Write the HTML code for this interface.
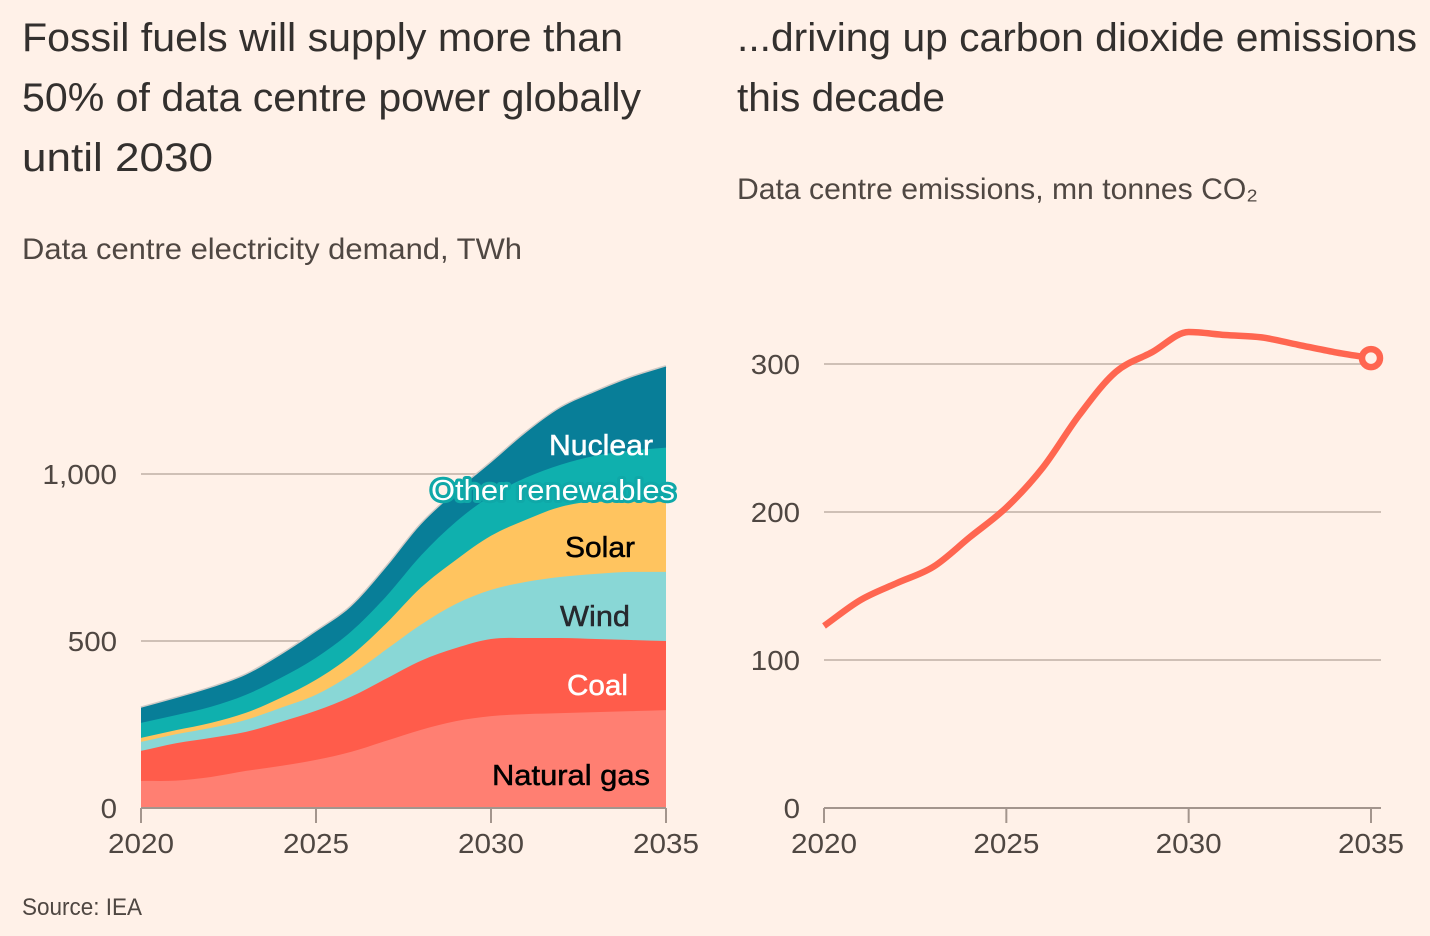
<!DOCTYPE html>
<html lang="en">
<head>
<meta charset="utf-8">
<title>Data centre power and emissions</title>
<style>
html,body{margin:0;padding:0;background:#fff1e8;width:1430px;height:936px;overflow:hidden}
svg{display:block}
text{font-family:"Liberation Sans","DejaVu Sans",sans-serif}
.title{font-size:40px;fill:#33302e}
.sub{font-size:29.5px;fill:#4f4742}
.tick{font-size:28px;fill:#4f4742}
.src{font-size:24px;fill:#4f4742}
.lab{font-size:29px;stroke-width:.5px}
</style>
</head>
<body>
<svg id="chart" width="1430" height="936" viewBox="0 0 1430 936" xmlns="http://www.w3.org/2000/svg">
<rect width="1430" height="936" fill="#fff1e8"/>
<text class="title" x="22" y="51" textLength="601" lengthAdjust="spacingAndGlyphs">Fossil fuels will supply more than</text>
<text class="title" x="22" y="111" textLength="619" lengthAdjust="spacingAndGlyphs">50% of data centre power globally</text>
<text class="title" x="22" y="171" textLength="191" lengthAdjust="spacingAndGlyphs">until 2030</text>
<text class="sub" x="22" y="259" textLength="500" lengthAdjust="spacingAndGlyphs">Data centre electricity demand, TWh</text>
<text class="title" x="737" y="51" textLength="680" lengthAdjust="spacingAndGlyphs">...driving up carbon dioxide emissions</text>
<text class="title" x="737" y="111" textLength="208" lengthAdjust="spacingAndGlyphs">this decade</text>
<text class="sub" x="737" y="199" textLength="521" lengthAdjust="spacingAndGlyphs">Data centre emissions, mn tonnes CO₂</text>
<text class="src" x="22" y="915" textLength="120" lengthAdjust="spacingAndGlyphs">Source: IEA</text>
<g id="left-grid"></g>
<g id="areas"></g>
<g id="left-axis"></g>
<g id="labels">
<text class="lab" x="549" y="455" textLength="104" lengthAdjust="spacingAndGlyphs" fill="#ffffff" stroke="#ffffff">Nuclear</text>
<text class="lab" x="431" y="500" textLength="244" lengthAdjust="spacingAndGlyphs" fill="#ffffff" stroke="#0fa8a8" style="stroke-width:6px" paint-order="stroke" stroke-linejoin="round">Other renewables</text>
<text class="lab" x="565" y="557" textLength="70" lengthAdjust="spacingAndGlyphs" fill="#000000" stroke="#000000">Solar</text>
<text class="lab" x="560" y="626" textLength="70" lengthAdjust="spacingAndGlyphs" fill="#26292e" stroke="#26292e">Wind</text>
<text class="lab" x="567" y="695" textLength="61" lengthAdjust="spacingAndGlyphs" fill="#ffffff" stroke="#ffffff">Coal</text>
<text class="lab" x="492" y="785" textLength="158" lengthAdjust="spacingAndGlyphs" fill="#000000" stroke="#000000">Natural gas</text>
</g>
<g id="right-grid"></g>
<g id="right-axis"></g>
<g id="right-series"></g>
</svg>
<script>
const years = [2020,2021,2022,2023,2024,2025,2026,2027,2028,2029,2030,2031,2032,2033,2034,2035];
const naturalGas = [81,82,93,111,126,144,168,201,234,260,275,281,284,287,290,293];
const coal = [90,112,117,117,132,147,165,186,207,219,231,228,225,219,213,207];
const wind = [27,27,30,36,42,48,66,87,108,132,147,168,183,195,204,207];
const solar = [12,12,15,21,30,45,57,78,111,132,162,186,210,216,210,210];
const otherRenewables = [45,45,48,54,60,66,72,81,96,114,120,126,126,138,153,162];
const nuclear = [45,51,57,60,69,78,75,87,93,90,99,135,171,192,219,243];
const emissions = [123,140.5,152,163,183,203,230,265.5,294.6,308,321.6,319.6,318,313,308,304];
const xTickYears = [2020,2025,2030,2035];
const leftYTicks = [0,500,1000];
const leftYTickLabels = ['0','500','1,000'];
const rightYTicks = [0,100,200,300];
const rightYTickLabels = ['0','100','200','300'];

const NS = 'http://www.w3.org/2000/svg';
function xL(y){return 141 + (y-2020)*35;}
function yL(v){return 808 - v*0.334;}
function xR(y){return 824 + (y-2020)*(547/15);}
function yR(v){return 808 - v*1.48;}
function labelWidth(s){return s.replace(',','').length*16.4 + (s.indexOf(',')>=0 ? 9 : 0);}

function curve(pts){
  const n = pts.length, d = [], m = [];
  for(let i=0;i<n-1;i++) d.push((pts[i+1][1]-pts[i][1])/(pts[i+1][0]-pts[i][0]));
  m[0] = d[0]; m[n-1] = d[n-2];
  for(let i=1;i<n-1;i++) m[i] = d[i-1]*d[i] <= 0 ? 0 : (d[i-1]+d[i])/2;
  let s = 'M'+pts[0][0].toFixed(2)+','+pts[0][1].toFixed(2);
  for(let i=0;i<n-1;i++){
    const h = (pts[i+1][0]-pts[i][0])/3;
    s += 'C'+(pts[i][0]+h).toFixed(2)+','+(pts[i][1]+m[i]*h).toFixed(2)+' '+
         (pts[i+1][0]-h).toFixed(2)+','+(pts[i+1][1]-m[i+1]*h).toFixed(2)+' '+
         pts[i+1][0].toFixed(2)+','+pts[i+1][1].toFixed(2);
  }
  return s;
}
function mk(tag, parent, attrs, text){
  const el = document.createElementNS(NS, tag);
  for(const k in attrs) el.setAttribute(k, attrs[k]);
  if(text !== undefined) el.textContent = text;
  parent.appendChild(el);
  return el;
}

const leftGrid = document.getElementById('left-grid');
const leftAxis = document.getElementById('left-axis');
const rightGrid = document.getElementById('right-grid');
const rightAxis = document.getElementById('right-axis');
const areas = document.getElementById('areas');
const rightSeries = document.getElementById('right-series');

leftYTicks.forEach(function(v,i){
  if(v !== 0){
    const g = mk('line', leftGrid, {x1:141,x2:666,y1:yL(v),y2:yL(v),stroke:'#cfc0b6','stroke-width':2});
    
    
  }
  const t = mk('text', leftAxis, {class:'tick',x:117,y:yL(v)+10,'text-anchor':'end',textLength:labelWidth(leftYTickLabels[i]),lengthAdjust:'spacingAndGlyphs'}, leftYTickLabels[i]);
  
  
});

const layers = [
  {name:'area-natural-gas', values:naturalGas, color:'#ff7f72'},
  {name:'area-coal', values:coal, color:'#ff5c4b'},
  {name:'area-wind', values:wind, color:'#89d7d6'},
  {name:'area-solar', values:solar, color:'#ffc45f'},
  {name:'area-other-renewables', values:otherRenewables, color:'#0fb0ae'},
  {name:'area-nuclear', values:nuclear, color:'#087e98'}
];
let cumulative = years.map(function(){return 0;});
layers.forEach(function(l){
  cumulative = cumulative.map(function(c,i){return c + l.values[i];});
  l.top = cumulative.slice();
});
const topPts = years.map(function(y,i){return [xL(y), yL(layers[5].top[i])];});
const topEdge = mk('path', areas, {d:curve(topPts),fill:'none',stroke:'#cfcac6','stroke-width':3});


layers.slice().reverse().forEach(function(l){
  const pts = years.map(function(y,i){return [xL(y), yL(l.top[i])];});
  const d = curve(pts)+'L'+xL(2035)+','+yL(0)+'L'+xL(2020)+','+yL(0)+'Z';
  const p = mk('path', areas, {d:d,fill:l.color});
  
  
});

const leftBase = mk('line', leftAxis, {x1:141,x2:666,y1:808,y2:808,stroke:'#a3958d','stroke-width':2});


xTickYears.forEach(function(y){
  const tk = mk('line', leftAxis, {x1:xL(y),x2:xL(y),y1:808,y2:823,stroke:'#a3958d','stroke-width':2});
  
  
  const t = mk('text', leftAxis, {class:'tick',x:xL(y),y:853,'text-anchor':'middle',textLength:66,lengthAdjust:'spacingAndGlyphs'}, String(y));
  
  
});

rightYTicks.forEach(function(v,i){
  if(v !== 0){
    const g = mk('line', rightGrid, {x1:824,x2:1381,y1:yR(v),y2:yR(v),stroke:'#cfc0b6','stroke-width':2});
    
    
  }
  const t = mk('text', rightAxis, {class:'tick',x:800,y:yR(v)+10,'text-anchor':'end',textLength:labelWidth(rightYTickLabels[i]),lengthAdjust:'spacingAndGlyphs'}, rightYTickLabels[i]);
  
  
});
const rightBase = mk('line', rightAxis, {x1:824,x2:1381,y1:808,y2:808,stroke:'#a3958d','stroke-width':2});


xTickYears.forEach(function(y){
  const tk = mk('line', rightAxis, {x1:xR(y),x2:xR(y),y1:808,y2:823,stroke:'#a3958d','stroke-width':2});
  
  
  const t = mk('text', rightAxis, {class:'tick',x:xR(y),y:853,'text-anchor':'middle',textLength:66,lengthAdjust:'spacingAndGlyphs'}, String(y));
  
  
});

const linePts = years.map(function(y,i){return [xR(y), yR(emissions[i])];});
const emLine = mk('path', rightSeries, {d:curve(linePts),fill:'none',stroke:'#ff6650','stroke-width':6.5,'stroke-linejoin':'round'});


const last = emissions.length-1;
const endDot = mk('circle', rightSeries, {cx:xR(years[last]),cy:yR(emissions[last]),r:9,fill:'#fff1e8',stroke:'#ff6650','stroke-width':6.5});


</script>
</body>
</html>
